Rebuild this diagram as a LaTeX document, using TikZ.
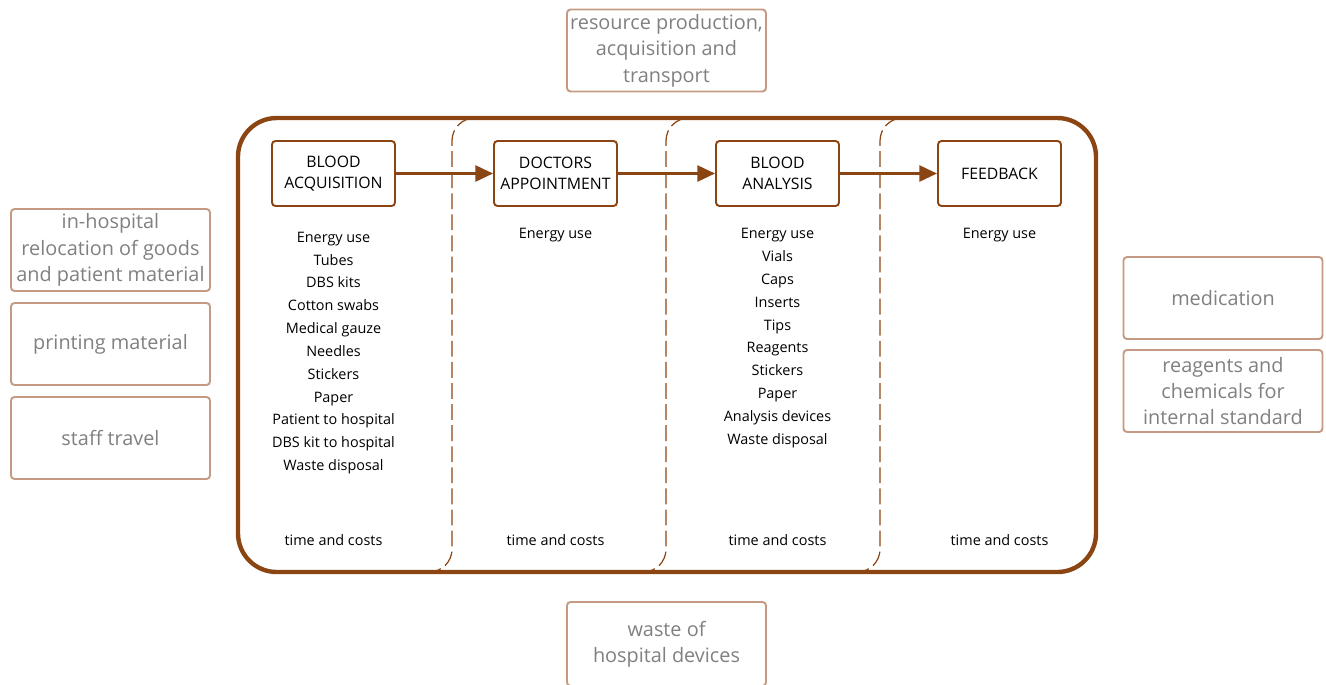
\documentclass[tikz,border=0pt]{standalone}
\usepackage{fontspec}
\setmainfont{Open Sans}
\usepackage{xcolor}
\usetikzlibrary{arrows.meta}
\definecolor{rust}{RGB}{139,69,19}
\definecolor{tan}{RGB}{196,155,130}
\definecolor{greytext}{RGB}{128,128,128}

\begin{document}
\begin{tikzpicture}[x=0.02cm,y=-0.02cm,
  every node/.style={align=center,inner sep=0pt},
  stepbox/.style={draw=rust,line width=1.1pt,rounded corners=2pt,minimum width=2.46cm,minimum height=1.3cm,font=\fontsize{9}{12}\selectfont},
  outbox/.style={draw=tan,line width=1.1pt,rounded corners=2pt,minimum width=3.98cm,minimum height=1.64cm,text=greytext,font=\fontsize{11.3}{15}\selectfont},
  itemlist/.style={font=\fontsize{8.2}{13}\selectfont},
  flow/.style={draw=rust,line width=1.6pt,-{Triangle[length=10pt,width=9pt]}},
  lane/.style={draw=rust,line width=0.7pt,dash pattern=on 9pt off 3pt,rounded corners=13pt}]
  \useasboundingbox (0,0) rectangle (1326,684);
    \begin{scope}
      \clip[rounded corners=22pt] (238,118) rectangle (1096,572);
      \draw[lane] (492,118) -- (452,118) -- (452,572) -- (412,572);
      \draw[lane] (706,118) -- (666,118) -- (666,572) -- (626,572);
      \draw[lane] (920,118) -- (880,118) -- (880,572) -- (840,572);
    \end{scope}
    \draw[rust,line width=2.5pt,rounded corners=22pt] (238,118) rectangle (1096,572);
  \node[stepbox](bloodacq) at (333.5,173.5) {BLOOD\\ACQUISITION};
    \node[stepbox](doctors) at (555.5,173.5) {DOCTORS\\APPOINTMENT};
    \node[stepbox](analysis) at (777.5,173.5) {BLOOD\\ANALYSIS};
    \node[stepbox](feedback) at (999.5,173.5) {FEEDBACK};
    \draw[flow] (bloodacq) -- (doctors);
    \draw[flow] (doctors) -- (analysis);
    \draw[flow] (analysis) -- (feedback);
  \node[itemlist](acqlist) at (333.5,353) {Energy use\\Tubes\\DBS kits\\Cotton swabs\\Medical gauze\\Needles\\Stickers\\Paper\\Patient to hospital\\DBS kit to hospital\\Waste disposal};
    \node[itemlist](apptlist) at (555.5,235) {Energy use};
    \node[itemlist](anallist) at (777.5,338) {Energy use\\Vials\\Caps\\Inserts\\Tips\\Reagents\\Stickers\\Paper\\Analysis devices\\Waste disposal};
    \node[itemlist](feedlist) at (999.5,235) {Energy use};
    \node[itemlist](acqcost) at (333.5,540) {time and costs};
    \node[itemlist](apptcost) at (555.5,540) {time and costs};
    \node[itemlist](analcost) at (777.5,540) {time and costs};
    \node[itemlist](feedcost) at (999.5,540) {time and costs};
  \node[outbox](resource) at (666.5,50.5) {resource production,\\acquisition and\\transport};
    \node[outbox,minimum height=1.68cm](waste) at (666.5,644) {waste of\\hospital devices};
    \node[outbox](relocation) at (110.5,250) {in-hospital\\relocation of goods\\and patient material};
    \node[outbox](printing) at (110.5,344) {printing material};
    \node[outbox](travel) at (110.5,438) {staff travel};
    \node[outbox](medication) at (1223,298) {medication};
    \node[outbox](reagents) at (1223,391) {reagents and\\chemicals for\\internal standard};
\end{tikzpicture}
\end{document}
